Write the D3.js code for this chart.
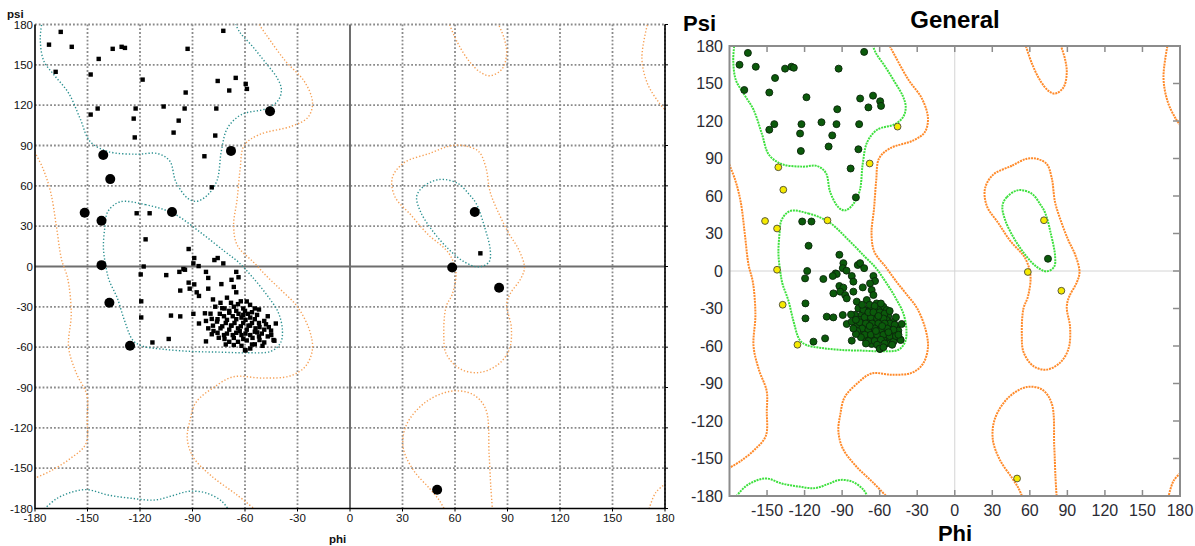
<!DOCTYPE html>
<html><head><meta charset="utf-8">
<script src="https://cdn.jsdelivr.net/npm/d3@7"></script>
<style>
html,body{margin:0;padding:0;background:#fff;}
svg{display:block;font-family:"Liberation Sans",Arial,sans-serif;}
</style></head>
<body>
<svg id="chart" width="1195" height="546"></svg>
<script>
// ---------- DATA ----------
const tickValues = [-180,-150,-120,-90,-60,-30,0,30,60,90,120,150,180];
const rightXTickLabels = [-150,-120,-90,-60,-30,0,30,60,90,120,150,180];

// favoured residues [phi, psi]
const favouredBeta = [
  [-172,165],[-165.3,174.5],[-159,163.4],[-168.2,144.8],[-143.6,154.4],[-148.2,142.8],[-135.6,161.9],
  [-130.5,163.4],[-128.6,162.6],[-144.2,117.5],[-148.2,113],[-118.5,139],[-122.5,117.5],[-123.6,110],
  [-123,96],[-106.5,119],[-97.9,108.5],[-100.8,99.6],[-93.9,129.4],[-94.5,117.5],[-92.8,161.9],
  [-72.4,175.3],[-75.6,138],[-69,130.9],[-65.3,140.3],[-59.6,135.8],[-58.9,132.1],[-76.4,117.5],
  [-77,97.4],[-83.2,82],[-79,58.9]
];
const favouredBridge = [
  [-121.9,39.6],[-114.5,39.6],[-116.8,20.2],[-92.2,13],[-89,6.3],[-89.5,2.3],[-86.5,0.3],
  [-77.5,4.8],[-75.6,6.3],[-72.4,2.3],[-117.9,0],[-95.2,-1.9]
];
const favouredAlpha = [
  [-119.6,-5.9],[-105,-6.4],[-94.3,-2.4],[-97.5,-4],[-82.3,-4],[-81,-8.5],[-65,-4],[-63.7,-8],
  [-67.7,-9.9],[-73.5,-13.1],[-92.2,-12],[-89,-13.3],[-97,-17.9],[-91.6,-16.5],[-87.6,-19.2],
  [-81,-16.5],[-66.4,-15.2],[-65,-19.2],[-86.3,-21.9],[-119.3,-25.9],[-119.3,-37.9],[-102.3,-36.5],
  [-97,-37.1],[-89.5,-35.2],[-86.3,-42.4],[-103.6,-53.9],[-112.9,-56.5],[-82.3,-55.7],[-59.7,-62.4],
  [-78.3,-24.5],[-70.3,-23.2],[-62.4,-25.9],[-57.1,-28.5],[-77,-29.9],[-71.7,-31.2],[-66.4,-29.9],
  [-61,-31.2],[-54.4,-31.2],[-79.7,-35.1],[-74.4,-35.2],[-69,-34.4],[-63.7,-35.2],[-58.4,-35.2],
  [-53.1,-36],[-75.7,-39.2],[-70.3,-39.7],[-65,-39.2],[-59.7,-39.7],[-54.4,-39.2],[-49,-40.5],
  [-78.3,-44],[-73,-44.5],[-67.7,-44],[-62.4,-44.5],[-57.1,-44],[-51.7,-45.1],[-46.4,-45.1],
  [-42.4,-42.4],[-75.7,-49.3],[-70.3,-49.9],[-65,-49.3],[-59.7,-49.9],[-54.4,-48.5],[-50.4,-49.9],
  [-45.1,-47.7],[-71.7,-53.9],[-66.4,-53.1],[-61,-53.9],[-55.7,-53.1],[-51.7,-54.7],[-43.7,-54.7],
  [-66.4,-58.4],[-54.4,-57.9],[-49,-56.5],[-82.3,-40.5]
];
const favouredCore = [
  [-68,-27],[-64,-28],[-60,-33],[-56,-34],[-72,-37],[-67,-37],[-62,-38],[-57,-38],[-52,-42],[-48,-43],
  [-76,-41],[-71,-42],[-66,-42],[-61,-42],[-56,-42],[-74,-46],[-69,-47],[-64,-46],[-59,-47],[-54,-46],
  [-49,-47],[-72,-51],[-67,-51],[-62,-51],[-57,-51],[-52,-52],[-47,-52],[-69,-56],[-64,-56],[-59,-55],
  [-56,-58],[-62,-59],[-73,-31],[-69,-33],[-65,-33],[-61,-36],[-58,-44],[-63,-48],[-68,-44],[-53,-49],
  [-78,-48],[-75,-53],[-43.2,-55.2],[-79,-50.4],[-82.9,-34.8],[-60,-62.1],
  [-74,-27],[-59,-26],[-52,-32],[-47,-37],[-79,-39],[-45,-51],[-71,-58],[-57,-61],[-50,-59],[-81,-46]
];
const favouredLeftHanded = [[74.5,9.8]];

// allowed residues [phi, psi]
const allowedPoints = [
  [-45.7,115.5],[-68,86],[-141,83],[-137,65],[-151.6,40],[-142,34],[-101.7,40.5],[-142,1],
  [-137.5,-27],[-125.7,-59],[71.3,40.6],[58.4,-0.8],[85.2,-15.8],[49.8,-166]
];

// favoured-region contours
const favContourBetaTop = [[-176,182],[-177,169],[-175,153],[-168.8,142],[-160.8,129],[-154.2,110],[-148.5,93],
  [-138.2,85.5],[-122.2,83.5],[-110,84],[-103,78.5],[-99.5,63],[-92.5,50.5],[-87.6,48.5],[-81.5,53],[-76,64],
  [-73.5,86],[-70,103],[-62,113],[-47.7,117.5],[-41,123.6],[-39.2,131.6],[-41.5,140],[-48.5,152],[-55.7,163.7],
  [-63,174.3],[-66,182]];
const favContourBetaBottom = [[-176,-182],[-168,-173],[-159.5,-168],[-150.2,-166],[-138.2,-170],[-124.9,-172.4],
  [-111.6,-173.7],[-101,-170.3],[-92,-167.2],[-82,-168.5],[-73,-174.9],[-69,-182]];
const favContourAlpha = [[-131.6,48],[-116.9,46],[-100.9,39.4],[-84.9,24.8],[-71.6,11.2],[-63.7,3.2],[-56,-7.5],
  [-47.7,-20.8],[-41,-34.2],[-38.6,-47.5],[-39.7,-56.8],[-45,-63],[-58.4,-64.2],[-74.3,-63.7],[-90.3,-63.2],
  [-106.3,-61.6],[-118.6,-59.2],[-124,-55],[-128.9,-40],[-133,-23.4],[-137.7,-10.1],[-139.5,0],[-140.9,14],
  [-140,30],[-138.4,40.8]];
const favContourLeft = [[50.9,64.7],[41.6,59.1],[38.1,52.1],[40.2,41],[46.9,27],[56.2,13.1],[65.5,3.3],
  [73.5,-0.3],[79.4,3.3],[80.2,11.7],[76.8,29.8],[72.2,46.6],[68.2,53.5],[61.5,61.9]];

// allowed-region contours
const allowContourLeftEdge = [[-182,89.5],[-175.5,73],[-171,55],[-167.8,30],[-164.8,5],[-161.3,-9],[-159.3,-35],
  [-160.8,-60],[-156.5,-79],[-150.3,-96],[-150.2,-112],[-151,-132],[-160,-143],[-171,-152],[-182,-158.5]];
const allowContourRightTop = [[170.3,182],[166.8,155],[170,136],[176.5,122],[182,114]];
const allowContourRightBottom = [[182,-160],[174.8,-168],[170.5,-182]];
const allowContourInner = [[-53,182],[-47.7,172],[-37,153],[-26,137.5],[-21.4,122],[-24,111],[-33,104.5],
  [-52,98],[-60.5,90],[-62.8,72],[-64.5,50],[-66.5,30],[-64.3,15.5],[-55,3],[-47,-8],[-39,-18],[-30,-30],
  [-23,-48],[-21.5,-62],[-25.6,-74.5],[-34.5,-81.5],[-50,-83],[-66.5,-82],[-77.5,-89.6],[-88,-101],
  [-91.5,-115],[-93,-128],[-89.5,-142],[-79,-156],[-65,-169.5],[-53,-182]];
const allowContourGamma = [[56.2,182],[61.5,166.4],[68.2,152.5],[74.9,144.1],[80.2,141.9],[86.9,146.9],
  [89.5,158.1],[88.2,169.2],[84.2,182]];
const allowContourLeftHanded = [[57.6,89.8],[45.6,84.2],[30.9,77.2],[24.2,66.1],[25.6,52.1],[34.9,38.2],
  [44.2,24.3],[56.2,10.3],[60.5,-3.6],[58.5,-20.4],[54.9,-30],[53.6,-51],[55,-65],[62.9,-76.1],[73.5,-78.9],
  [84.2,-73.3],[90.9,-62.2],[92.2,-45.4],[89.5,-28.7],[91.5,-20.4],[97.5,-9.2],[99.7,-0.8],[96.2,13.1],
  [90.9,24.3],[85.5,38.2],[80.2,54.9],[77.5,74.4],[73.5,85.6],[65.5,89.8]];
const allowContourBottom = [[54.5,-182],[50.9,-173.7],[45.6,-165.3],[36.2,-151.4],[30.4,-134.7],[32.2,-117.9],
  [42.9,-101.2],[57.6,-92.8],[70,-95],[77.5,-106],[79.5,-140],[80.5,-165],[81.5,-182]];

const favouredOpen = [favContourBetaTop, favContourBetaBottom];
const favouredClosed = [favContourAlpha, favContourLeft];
const allowedOpen = [allowContourLeftEdge, allowContourRightTop, allowContourRightBottom, allowContourInner,
  allowContourGamma, allowContourBottom];
const allowedClosed = [allowContourLeftHanded];

const favouredPoints = [...favouredBeta, ...favouredBridge, ...favouredAlpha, ...favouredCore, ...favouredLeftHanded];

// ---------- DRAW ----------
const svg = d3.select("#chart");
const font = '"Liberation Sans",Arial,sans-serif';

function drawContours(g, x, y, opts) {
  const lineOpen = d3.line().x(d => x(d[0])).y(d => y(d[1])).curve(d3.curveCatmullRom.alpha(0.5));
  const lineClosed = d3.line().x(d => x(d[0])).y(d => y(d[1])).curve(d3.curveCatmullRomClosed.alpha(0.5));
  const draw = (sets, closed, color) => {
    g.selectAll(null).data(sets).enter().append("path")
      .attr("d", d => (closed ? lineClosed : lineOpen)(d))
      .attr("fill", "none").attr("stroke", color)
      .attr("stroke-width", opts.width).attr("stroke-dasharray", opts.dash)
      .attr("stroke-linecap", "butt");
  };
  draw(allowedOpen, false, opts.allowColor);
  draw(allowedClosed, true, opts.allowColor);
  draw(favouredOpen, false, opts.favColor);
  draw(favouredClosed, true, opts.favColor);
}

// ===== LEFT PLOT =====
(function(){
  const x = d3.scaleLinear().domain([-180,180]).range([35,665]);
  const y = d3.scaleLinear().domain([-180,180]).range([508.5,24.5]);
  const g = svg.append("g");
  g.append("clipPath").attr("id","clipL").append("rect")
    .attr("x",x(-180)).attr("y",y(180)).attr("width",x(180)-x(-180)).attr("height",y(-180)-y(180));

  // grid
  const grid = g.append("g").attr("stroke","#8a8a8a").attr("stroke-width",1.8).attr("stroke-dasharray","1.8,2");
  grid.selectAll(null).data(tickValues.filter(v=>v!==-180 && v!==0)).enter().append("line")
    .attr("x1",d=>x(d)).attr("x2",d=>x(d)).attr("y1",y(180)).attr("y2",y(-180));
  grid.selectAll(null).data(tickValues.filter(v=>v!==-180 && v!==0)).enter().append("line")
    .attr("y1",d=>y(d)).attr("y2",d=>y(d)).attr("x1",x(-180)).attr("x2",x(180));
  // zero axes
  g.append("line").attr("x1",x(0)).attr("x2",x(0)).attr("y1",y(180)).attr("y2",y(-180))
    .attr("stroke","#6e6e6e").attr("stroke-width",2);
  g.append("line").attr("y1",y(0)).attr("y2",y(0)).attr("x1",x(-180)).attr("x2",x(180))
    .attr("stroke","#6e6e6e").attr("stroke-width",2);

  const cg = g.append("g").attr("clip-path","url(#clipL)");
  drawContours(cg, x, y, {width:1.4, dash:"1.3,2", allowColor:"#f6a055", favColor:"#2a9090"});

  // frame
  g.append("path").attr("d",`M${x(-180)},${y(180)}V${y(-180)}H${x(180)}V${y(180)}`)
    .attr("fill","none").attr("stroke","#000").attr("stroke-width",1.6);
  // small outward ticks
  g.selectAll(null).data(tickValues).enter().append("line")
    .attr("x1",d=>x(d)).attr("x2",d=>x(d)).attr("y1",y(-180)).attr("y2",y(-180)+3)
    .attr("stroke","#000").attr("stroke-width",1);
  g.selectAll(null).data(tickValues).enter().append("line")
    .attr("y1",d=>y(d)).attr("y2",d=>y(d)).attr("x1",x(180)).attr("x2",x(180)+3)
    .attr("stroke","#000").attr("stroke-width",1);

  // points
  const s = 4.4;
  g.selectAll(null).data(favouredPoints).enter().append("rect")
    .attr("x",d=>x(d[0])-s/2).attr("y",d=>y(d[1])-s/2).attr("width",s).attr("height",s).attr("fill","#000");
  g.selectAll(null).data(allowedPoints).enter().append("circle")
    .attr("cx",d=>x(d[0])).attr("cy",d=>y(d[1])).attr("r",5).attr("fill","#000");

  // labels
  const tl = g.append("g").attr("font-family",font).attr("font-size",11.5).attr("fill","#111");
  tl.selectAll(null).data(tickValues).enter().append("text")
    .attr("x",33).attr("y",d=>y(d)).attr("dy","0.36em").attr("text-anchor","end").text(d=>d);
  tl.selectAll(null).data(tickValues).enter().append("text")
    .attr("x",d=>x(d)).attr("y",522).attr("text-anchor","middle").text(d=>d);
  g.append("text").attr("x",7).attr("y",18).attr("font-family",font).attr("font-weight","bold")
    .attr("font-size",11.5).attr("fill","#111").text("psi");
  g.append("text").attr("x",329).attr("y",543).attr("font-family",font).attr("font-weight","bold")
    .attr("font-size",11.5).attr("fill","#111").text("phi");
})();

// ===== RIGHT PLOT =====
(function(){
  const x = d3.scaleLinear().domain([-180,180]).range([729.5,1180]);
  const y = d3.scaleLinear().domain([-180,180]).range([496,46]);
  const g = svg.append("g");
  g.append("clipPath").attr("id","clipR").append("rect")
    .attr("x",x(-180)).attr("y",y(180)).attr("width",x(180)-x(-180)).attr("height",y(-180)-y(180));

  // zero grid lines
  g.append("line").attr("x1",x(0)).attr("x2",x(0)).attr("y1",y(180)).attr("y2",y(-180))
    .attr("stroke","#d4d4d4").attr("stroke-width",1);
  g.append("line").attr("y1",y(0)).attr("y2",y(0)).attr("x1",x(-180)).attr("x2",x(180))
    .attr("stroke","#d4d4d4").attr("stroke-width",1);

  const cg = g.append("g").attr("clip-path","url(#clipR)");
  drawContours(cg, x, y, {width:2, dash:"2,0.9", allowColor:"#ff8a2a", favColor:"#3ee03e"});

  // frame
  g.append("rect").attr("x",x(-180)).attr("y",y(180)).attr("width",x(180)-x(-180)).attr("height",y(-180)-y(180))
    .attr("fill","none").attr("stroke","#8c8c8c").attr("stroke-width",2);
  const inner = tickValues.filter(v=>v!==-180 && v!==180);
  const tk = g.append("g").attr("stroke","#8c8c8c").attr("stroke-width",1.5);
  tk.selectAll(null).data(inner).enter().append("line")
    .attr("x1",d=>x(d)).attr("x2",d=>x(d)).attr("y1",y(180)).attr("y2",y(180)+6);
  tk.selectAll(null).data(inner).enter().append("line")
    .attr("x1",d=>x(d)).attr("x2",d=>x(d)).attr("y1",y(-180)).attr("y2",y(-180)-6);
  tk.selectAll(null).data(inner).enter().append("line")
    .attr("y1",d=>y(d)).attr("y2",d=>y(d)).attr("x1",x(180)).attr("x2",x(180)-7);

  // points
  g.selectAll(null).data(favouredPoints).enter().append("circle")
    .attr("cx",d=>x(d[0])).attr("cy",d=>y(d[1])).attr("r",3.5)
    .attr("fill","#0b5a0b").attr("stroke","#0a260a").attr("stroke-width",0.9);
  g.selectAll(null).data(allowedPoints).enter().append("circle")
    .attr("cx",d=>x(d[0])).attr("cy",d=>y(d[1])).attr("r",3.4)
    .attr("fill","#f5ea00").attr("stroke","#4a4a3a").attr("stroke-width",0.9);

  // labels
  const tl = g.append("g").attr("font-family",font).attr("font-size",16).attr("fill","#2b2b33");
  tl.selectAll(null).data(tickValues).enter().append("text")
    .attr("x",723).attr("y",d=>y(d)).attr("dy","0.36em").attr("text-anchor","end").text(d=>d);
  tl.selectAll(null).data(rightXTickLabels).enter().append("text")
    .attr("x",d=>x(d)).attr("y",516).attr("text-anchor","middle").text(d=>d);
  g.append("text").attr("x",683).attr("y",31).attr("font-family",font).attr("font-weight","bold")
    .attr("font-size",22).attr("fill","#000").text("Psi");
  g.append("text").attr("x",955).attr("y",28).attr("text-anchor","middle").attr("font-family",font)
    .attr("font-weight","bold").attr("font-size",24).attr("fill","#000").text("General");
  g.append("text").attr("x",955).attr("y",541).attr("text-anchor","middle").attr("font-family",font)
    .attr("font-weight","bold").attr("font-size",22).attr("fill","#000").text("Phi");
})();
</script>
</body></html>
